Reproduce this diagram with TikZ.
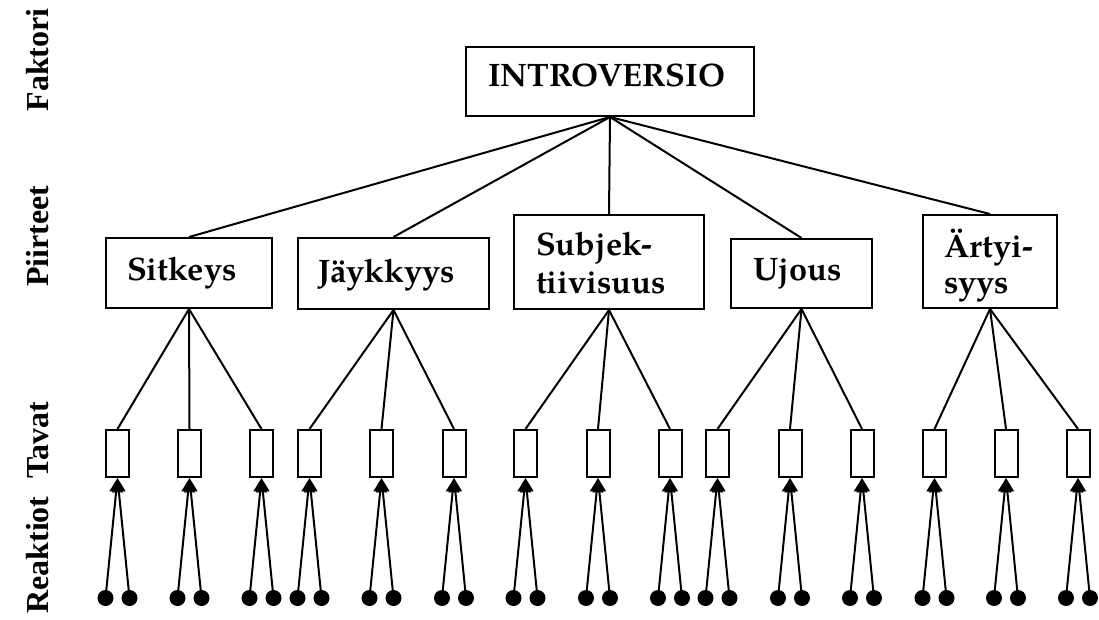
\documentclass[tikz,border=0pt]{standalone}
\usepackage{fontspec}
\setmainfont{texgyrepagella}[Extension=.otf,UprightFont=*-regular,BoldFont=*-bold,ItalicFont=*-italic,BoldItalicFont=*-bolditalic]
\newfontfamily\levelfont{Liberation Serif}
\usetikzlibrary{arrows.meta}

\begin{document}
\begin{tikzpicture}[x=1pt,y=-1pt,line width=2pt,
  box/.style={draw,inner sep=0pt,line width=2pt},
  waybox/.style={draw,inner sep=0pt,minimum width=23pt,minimum height=47pt},
  dot/.style={circle,fill,inner sep=0pt,minimum size=16pt},
  word/.style={font=\bfseries\fontsize{32.5}{38}\selectfont,anchor=base west,inner sep=0pt},
  level/.style={font=\levelfont\bfseries\fontsize{32}{32}\selectfont,rotate=90,anchor=base,inner sep=0pt},
  feed/.style={-{Triangle[length=14pt,width=13pt]},line width=2pt}]
\useasboundingbox (0,0) rectangle (1099,620);

% level captions on the left
\node[level] (lvF) at (48,60) {Faktori};
\node[level] (lvP) at (48,236) {Piirteet};
\node[level] (lvT) at (48,440) {Tavat};
\node[level] (lvR) at (48,555) {Reaktiot};

% factor
\node[box,minimum width=288pt,minimum height=69pt] (top) at (610,81.5) {};
\node[word] (tTop) at (487,87) {INTROVERSIO};

% traits
\node[box,minimum width=166pt,minimum height=70pt] (sit) at (189,273) {};
\node[word] (tSit) at (126,280) {Sitkeys};
\node[box,minimum width=191pt,minimum height=71pt] (jay) at (393.5,273.5) {};
\node[word] (tJay) at (317,282) {Jäykkyys};
\node[box,minimum width=190pt,minimum height=94pt] (sub) at (609,262) {};
\node[word] (tSubA) at (535,255) {Subjek-};
\node[word] (tSubB) at (535,293) {tiivisuus};
\node[box,minimum width=141pt,minimum height=69pt] (ujo) at (801.5,273.5) {};
\node[word] (tUjo) at (752,280) {Ujous};
\node[box,minimum width=134pt,minimum height=93pt] (art) at (990,261.5) {};
\node[word] (tArtA) at (943,257) {Ärtyi-};
\node[word] (tArtB) at (943,293) {syys};

\foreach \t in {sit,jay,sub,ujo,art}
  \draw (top.south) -- (\t.north);

% habits with their reactions
\foreach \c/\p [count=\i] in {117.5/sit,189.5/sit,261.5/sit,
                              309.5/jay,381.5/jay,454/jay,
                              525.5/sub,598/sub,670/sub,
                              717.5/ujo,790/ujo,862/ujo,
                              934.5/art,1006/art,1078/art} {
  \node[waybox] (w\i) at (\c,453.5) {};
  \draw (\p.south) -- (w\i.north);
  \node[dot] (r\i-l) at (\c-12,598) {};
  \node[dot] (r\i-r) at (\c+12,598) {};
  \draw[feed] (r\i-l.center) -- (w\i.south);
  \draw[feed] (r\i-r.center) -- (w\i.south);
}
\end{tikzpicture}
\end{document}
